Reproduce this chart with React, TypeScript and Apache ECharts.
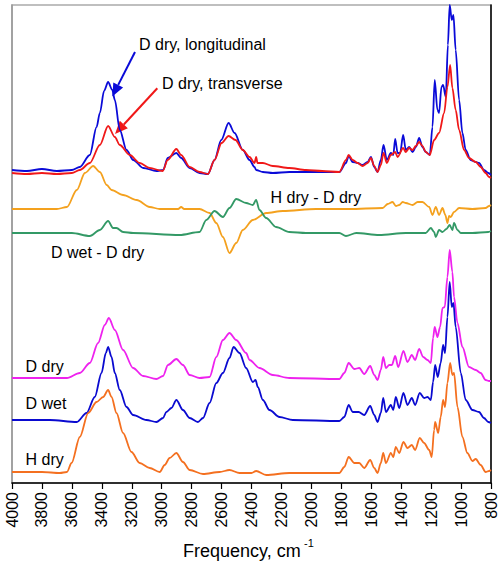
import React, { useEffect, useRef } from "react";
import * as echarts from "echarts";

const FONT = "'Liberation Sans', Arial, Helvetica, sans-serif";

// x: frequency (cm-1), y: offset absorbance (arbitrary units)
const dDryLongitudinal = [[4000,313],[3900,312],[3800,314],[3700,312],[3600,313],[3547,316],[3480,328],[3435,356],[3413,370],[3385,392],[3358,401],[3330,393],[3313,383],[3280,353],[3235,333],[3190,323],[3123,315],[3035,312],[2990,313],[2960,325],[2902,330],[2870,325],[2813,315],[2747,310],[2691,309],[2647,323],[2602,343],[2553,360],[2513,350],[2458,333],[2413,323],[2380,316],[2369,313],[2324,311],[2258,310],[2147,311],[2036,311],[1927,311],[1813,311],[1769,320],[1751,327],[1724,321],[1691,320],[1658,318],[1624,321],[1602,326],[1580,316],[1558,311],[1536,323],[1518,338],[1496,323],[1469,330],[1453,328],[1440,344],[1424,330],[1407,330],[1387,348],[1369,333],[1347,336],[1324,331],[1302,336],[1280,345],[1258,336],[1236,331],[1209,328],[1191,356],[1176,403],[1158,373],[1147,370],[1131,396],[1120,398],[1102,386],[1088,438],[1076,478],[1062,463],[1051,468],[1036,433],[1013,383],[991,350],[969,333],[936,323],[902,321],[880,320],[847,313],[818,310],[800,308]];

const dDryTransverse = [[4000,310],[3900,309],[3800,310],[3700,309],[3600,310],[3547,313],[3480,320],[3413,338],[3358,357],[3313,346],[3280,338],[3213,328],[3147,320],[3080,315],[2993,312],[2960,323],[2902,334],[2870,328],[2813,316],[2747,311],[2691,309],[2647,323],[2600,340],[2553,347],[2507,343],[2458,333],[2413,326],[2380,320],[2369,326],[2360,320],[2324,320],[2258,317],[2147,315],[2036,313],[1927,312],[1813,311],[1769,323],[1751,328],[1724,323],[1691,320],[1658,317],[1624,320],[1602,325],[1580,317],[1558,311],[1536,318],[1518,330],[1496,320],[1469,328],[1440,331],[1424,326],[1387,335],[1369,331],[1347,335],[1324,333],[1302,337],[1280,341],[1258,337],[1236,331],[1209,328],[1180,343],[1147,350],[1113,370],[1091,396],[1073,418],[1058,395],[1036,373],[1013,353],[980,333],[947,325],[902,321],[869,316],[836,310],[813,306],[800,305]];

const hDryMinusDDry = [[4000,274],[3800,274],[3700,274],[3633,276],[3567,293],[3513,310],[3458,317],[3413,311],[3367,298],[3335,293],[3258,288],[3167,283],[3080,276],[3013,274],[2890,274],[2870,276],[2850,274],[2747,274],[2680,270],[2635,260],[2591,246],[2547,230],[2502,240],[2458,253],[2391,263],[2302,270],[2191,272],[1969,274],[1747,274],[1524,275],[1490,279],[1458,281],[1435,277],[1413,278],[1390,281],[1369,280],[1324,278],[1290,281],[1258,281],[1213,276],[1191,268],[1169,276],[1147,268],[1124,275],[1105,268],[1091,260],[1080,267],[1069,266],[1047,271],[1013,275],[924,274],[836,275],[813,277],[800,278]];

const dWetMinusDDry = [[4000,250],[3600,250],[3480,247],[3413,253],[3358,262],[3325,255],[3302,255],[3258,251],[3191,250],[2880,248],[2747,251],[2702,263],[2647,272],[2591,266],[2547,275],[2502,284],[2436,280],[2391,278],[2369,283],[2347,273],[2302,265],[2236,256],[2147,251],[2036,250],[1813,250],[1769,247],[1700,250],[1547,248],[1369,250],[1236,250],[1202,255],[1180,251],[1169,246],[1147,253],[1124,251],[1098,254],[1076,258],[1058,253],[1047,260],[1024,253],[1002,250],[924,250],[818,251],[800,252]];

const dDry = [[4000,105],[3800,105],[3633,105],[3547,110],[3480,120],[3425,140],[3380,158],[3353,165],[3313,153],[3258,133],[3191,115],[3124,107],[3035,104],[2991,107],[2958,118],[2902,124],[2858,118],[2813,108],[2747,105],[2680,106],[2635,126],[2591,143],[2547,150],[2502,143],[2436,130],[2413,123],[2347,115],[2258,108],[2147,105],[1813,104],[1780,110],[1751,120],[1713,114],[1680,115],[1647,109],[1607,117],[1580,108],[1558,103],[1536,113],[1520,126],[1502,115],[1480,118],[1462,118],[1440,127],[1420,116],[1385,132],[1358,121],[1329,128],[1307,123],[1280,134],[1253,126],[1224,123],[1202,120],[1187,145],[1176,156],[1158,146],[1140,156],[1124,175],[1109,176],[1091,206],[1076,233],[1058,211],[1047,186],[1024,160],[991,136],[947,116],[902,113],[869,110],[836,103],[813,102],[800,102]];

const dWet = [[4000,63],[3747,63],[3567,61],[3502,70],[3447,86],[3402,110],[3373,130],[3358,136],[3335,126],[3313,110],[3280,93],[3235,76],[3191,68],[3102,63],[3035,61],[2991,65],[2969,71],[2935,75],[2902,83],[2858,73],[2813,65],[2758,61],[2724,65],[2680,80],[2635,100],[2591,110],[2547,125],[2520,136],[2480,130],[2436,115],[2391,101],[2373,103],[2358,96],[2324,83],[2280,73],[2213,66],[2124,63],[1813,62],[1780,66],[1751,78],[1724,71],[1684,71],[1647,68],[1607,77],[1580,68],[1558,61],[1536,70],[1520,85],[1502,71],[1469,78],[1453,73],[1436,86],[1413,75],[1385,90],[1358,78],[1329,85],[1307,78],[1276,90],[1247,85],[1224,86],[1202,83],[1187,101],[1173,118],[1156,106],[1136,120],[1120,138],[1107,130],[1091,166],[1076,201],[1062,176],[1051,180],[1036,156],[1002,110],[969,83],[924,73],[880,71],[847,65],[818,61],[800,60]];

const hDry = [[4000,11],[3800,11],[3680,10],[3633,11],[3602,20],[3547,46],[3491,70],[3435,81],[3391,86],[3358,93],[3335,86],[3302,70],[3258,50],[3202,31],[3147,20],[3080,15],[3013,11],[2980,18],[2947,25],[2902,30],[2858,21],[2813,13],[2724,9],[2613,11],[2547,13],[2480,10],[2400,10],[2369,12],[2302,8],[2147,10],[1813,10],[1780,16],[1751,26],[1713,20],[1680,20],[1647,15],[1607,23],[1580,15],[1558,10],[1536,20],[1520,30],[1502,20],[1469,30],[1453,26],[1436,36],[1413,30],[1385,41],[1358,35],[1329,38],[1307,33],[1276,45],[1247,40],[1213,33],[1196,26],[1180,53],[1173,61],[1153,50],[1136,66],[1120,83],[1107,76],[1091,100],[1073,120],[1058,108],[1047,110],[1024,76],[991,46],[958,30],[924,22],[902,24],[869,18],[836,11],[813,12],[800,13]];

const seriesNames = ["D dry, longitudinal", "D dry, transverse", "H dry - D dry", "D wet - D dry", "D dry", "D wet", "H dry"];
const seriesColors = ["#0a0ad8", "#f01818", "#f4a11e", "#339966", "#ee22ee", "#0a0ad0", "#f47020"];
const seriesData = [dDryLongitudinal, dDryTransverse, hDryMinusDDry, dWetMinusDDry, dDry, dWet, hDry];

function arrow(x1: number, y1: number, x2: number, y2: number, color: string) {
  const dx = x2 - x1, dy = y2 - y1;
  const len = Math.hypot(dx, dy);
  const ux = dx / len, uy = dy / len;
  const hl = 13, hw = 5.5;
  const bx = x2 - ux * hl, by = y2 - uy * hl;
  const px = -uy, py = ux;
  return [
    { type: "line", shape: { x1, y1, x2: bx, y2: by }, style: { stroke: color, lineWidth: 2 } },
    { type: "polygon", shape: { points: [[x2, y2], [bx + px * hw, by + py * hw], [bx - px * hw, by - py * hw]] }, style: { fill: color } },
  ];
}

function label(text: string, x: number, y: number, size = 16) {
  return { type: "text", x, y, style: { text, fill: "#000", font: `${size}px ${FONT}`, verticalAlign: "middle", align: "left" } };
}

export default function App() {
  const ref = useRef<HTMLDivElement>(null);
  useEffect(() => {
    document.body.style.margin = "0";
    const chart = echarts.init(ref.current!, null, { renderer: "svg" });
    chart.setOption({
      animation: false,
      backgroundColor: "#fff",
      grid: { left: 12, right: 9, top: 5, bottom: 82, show: true, borderColor: "#aaa", borderWidth: 1.5 },
      xAxis: {
        type: "value",
        inverse: true,
        min: 800,
        max: 4000,
        interval: 200,
        axisLine: { show: true, onZero: false, lineStyle: { color: "#000", width: 1.5 } },
        axisTick: { show: true, inside: false, length: 6, lineStyle: { color: "#000", width: 1.2 } },
        axisLabel: {
          rotate: 90, fontSize: 16, color: "#000", fontFamily: FONT, margin: 9,
          showMinLabel: true, showMaxLabel: true, hideOverlap: false,
          formatter: (v: number) => String(v),
        },
        splitLine: { show: false },
      },
      yAxis: [
        {
          type: "value", min: 0, max: 478, position: "left",
          axisLine: { show: true, lineStyle: { color: "#999", width: 1.5 } },
          axisTick: { show: false }, axisLabel: { show: false }, splitLine: { show: false },
        },
        {
          type: "value", min: 0, max: 478, position: "right",
          axisLine: { show: true, lineStyle: { color: "#000", width: 1.5 } },
          axisTick: { show: false }, axisLabel: { show: false }, splitLine: { show: false },
        },
      ],
      series: seriesData.map((d, i) => ({
        name: seriesNames[i],
        type: "line",
        data: d,
        showSymbol: false,
        smooth: 0.3,
        smoothMonotone: "x",
        clip: true,
        lineStyle: { color: seriesColors[i], width: 1.8 },
        itemStyle: { color: seriesColors[i] },
        z: 2 + i,
      })),
      graphic: [
        label("D dry, longitudinal", 139, 44),
        label("D dry, transverse", 162, 83),
        label("H dry - D dry", 270.5, 197),
        label("D wet - D dry", 51, 252.5),
        label("D dry", 25.5, 366.5),
        label("D wet", 25.5, 403),
        label("H dry", 25.5, 459.5),
        ...arrow(135, 52, 112.3, 96.5, "#0a0ad8"),
        ...arrow(157.3, 88.3, 115, 134, "#f01818"),
        label("Frequency, cm", 183, 551, 18),
        label("-1", 304, 543, 11),
      ],
    });
    return () => chart.dispose();
  }, []);
  return <div ref={ref} style={{ width: 500, height: 565 }} />;
}
